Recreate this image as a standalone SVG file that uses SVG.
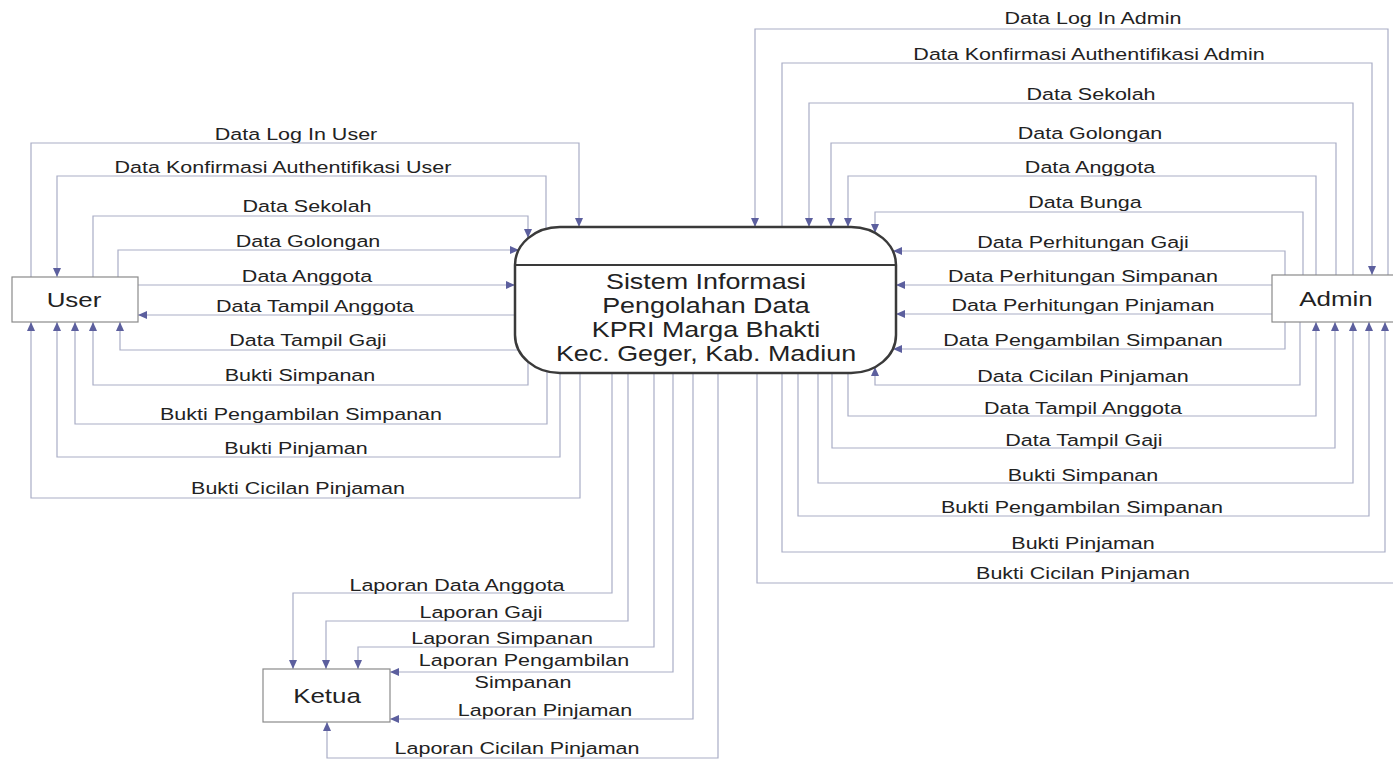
<svg xmlns="http://www.w3.org/2000/svg" width="1393" height="760" viewBox="0 0 1393 760">
<defs>
<style>
.c{fill:none;stroke:#a9adc6;stroke-width:1.2;marker-end:url(#ah)}
.n{fill:none;stroke:#a9adc6;stroke-width:1.2}
.lb{font-family:"Liberation Sans",Arial,sans-serif;font-size:17px;fill:#222;text-anchor:middle}
.pt{font-family:"Liberation Sans",Arial,sans-serif;font-size:21.5px;fill:#222;text-anchor:middle}
.et{font-family:"Liberation Sans",Arial,sans-serif;font-size:20.5px;fill:#222;text-anchor:middle}
.ent{fill:#fff;stroke:#8a8a8a;stroke-width:1.2}
</style>
<marker id="ah" markerUnits="userSpaceOnUse" markerWidth="9" markerHeight="8" refX="9" refY="4" orient="auto">
<path d="M0,0 L9,4 L0,8 Z" fill="#5c5f9e"/>
</marker>
</defs>
<rect width="1393" height="760" fill="#fff"/>
<g id="connectors">
<path class="c" d="M31,277 V143 H579 V227"/>
<path class="c" d="M546,229 V176 H57 V277"/>
<path class="c" d="M93,277 V216 H528 V238"/>
<path class="c" d="M118,277 V250 H519"/>
<path class="c" d="M138,285 H515"/>
<path class="c" d="M515,315 H138"/>
<path class="c" d="M519,350 H120 V322"/>
<path class="c" d="M528,362 V385 H93 V322"/>
<path class="c" d="M547,371 V424 H75 V322"/>
<path class="c" d="M560,373 V457 H57 V322"/>
<path class="c" d="M580,373 V498 H31 V322"/>
<path class="c" d="M1388,275 V29 H755 V227"/>
<path class="c" d="M782,227 V63 H1372 V275"/>
<path class="c" d="M1353,275 V103 H809 V227"/>
<path class="c" d="M1336,275 V143 H831 V227"/>
<path class="c" d="M1316,275 V176 H848 V227"/>
<path class="c" d="M1303,275 V212 H875 V233"/>
<path class="c" d="M1285,275 V251 H893"/>
<path class="c" d="M1272,285 H896"/>
<path class="c" d="M1272,314 H896"/>
<path class="c" d="M1285,322 V349 H893"/>
<path class="c" d="M1300,322 V385 H875 V367"/>
<path class="c" d="M848,373 V416 H1316 V322"/>
<path class="c" d="M832,373 V448 H1335 V322"/>
<path class="c" d="M818,373 V483 H1353 V322"/>
<path class="c" d="M798,373 V516 H1369 V322"/>
<path class="c" d="M782,373 V552 H1385 V322"/>
<path class="c" d="M757,373 V583 H1397 V322"/>
<path class="c" d="M612,373 V593 H293 V669"/>
<path class="c" d="M628,373 V621 H326 V669"/>
<path class="c" d="M654,373 V647 H358 V669"/>
<path class="c" d="M673,373 V672 H390"/>
<path class="c" d="M693,373 V719 H390"/>
<path class="c" d="M718,373 V758 H327 V722"/>
</g>
<g id="labels">
<text class="lb" transform="matrix(1.265 0 0 1 296 140)">Data Log In User</text>
<text class="lb" transform="matrix(1.265 0 0 1 283 173)">Data Konfirmasi Authentifikasi User</text>
<text class="lb" transform="matrix(1.265 0 0 1 307 212)">Data Sekolah</text>
<text class="lb" transform="matrix(1.265 0 0 1 308 247)">Data Golongan</text>
<text class="lb" transform="matrix(1.265 0 0 1 307 282)">Data Anggota</text>
<text class="lb" transform="matrix(1.265 0 0 1 315 312)">Data Tampil Anggota</text>
<text class="lb" transform="matrix(1.265 0 0 1 308 346)">Data Tampil Gaji</text>
<text class="lb" transform="matrix(1.265 0 0 1 300 381)">Bukti Simpanan</text>
<text class="lb" transform="matrix(1.265 0 0 1 301 420)">Bukti Pengambilan Simpanan</text>
<text class="lb" transform="matrix(1.265 0 0 1 296 454)">Bukti Pinjaman</text>
<text class="lb" transform="matrix(1.265 0 0 1 298 494)">Bukti Cicilan Pinjaman</text>
<text class="lb" transform="matrix(1.265 0 0 1 1093 24)">Data Log In Admin</text>
<text class="lb" transform="matrix(1.265 0 0 1 1089 60)">Data Konfirmasi Authentifikasi Admin</text>
<text class="lb" transform="matrix(1.265 0 0 1 1091 100)">Data Sekolah</text>
<text class="lb" transform="matrix(1.265 0 0 1 1090 139)">Data Golongan</text>
<text class="lb" transform="matrix(1.265 0 0 1 1090 173)">Data Anggota</text>
<text class="lb" transform="matrix(1.265 0 0 1 1085 208)">Data Bunga</text>
<text class="lb" transform="matrix(1.265 0 0 1 1083 248)">Data Perhitungan Gaji</text>
<text class="lb" transform="matrix(1.265 0 0 1 1083 282)">Data Perhitungan Simpanan</text>
<text class="lb" transform="matrix(1.265 0 0 1 1083 311)">Data Perhitungan Pinjaman</text>
<text class="lb" transform="matrix(1.265 0 0 1 1083 346)">Data Pengambilan Simpanan</text>
<text class="lb" transform="matrix(1.265 0 0 1 1083 382)">Data Cicilan Pinjaman</text>
<text class="lb" transform="matrix(1.265 0 0 1 1083 414)">Data Tampil Anggota</text>
<text class="lb" transform="matrix(1.265 0 0 1 1084 446)">Data Tampil Gaji</text>
<text class="lb" transform="matrix(1.265 0 0 1 1083 481)">Bukti Simpanan</text>
<text class="lb" transform="matrix(1.265 0 0 1 1082 513)">Bukti Pengambilan Simpanan</text>
<text class="lb" transform="matrix(1.265 0 0 1 1083 549)">Bukti Pinjaman</text>
<text class="lb" transform="matrix(1.265 0 0 1 1083 579)">Bukti Cicilan Pinjaman</text>
<text class="lb" transform="matrix(1.265 0 0 1 457 591)">Laporan Data Anggota</text>
<text class="lb" transform="matrix(1.265 0 0 1 481 618)">Laporan Gaji</text>
<text class="lb" transform="matrix(1.265 0 0 1 502 644)">Laporan Simpanan</text>
<text class="lb" transform="matrix(1.265 0 0 1 524 666)">Laporan Pengambilan</text>
<text class="lb" transform="matrix(1.265 0 0 1 523 688)">Simpanan</text>
<text class="lb" transform="matrix(1.265 0 0 1 545 716)">Laporan Pinjaman</text>
<text class="lb" transform="matrix(1.265 0 0 1 517 754)">Laporan Cicilan Pinjaman</text>
</g>
<g id="process">
<rect x="515" y="227" width="381" height="146" rx="45" ry="38" fill="#fff" stroke="#3a3a3a" stroke-width="2.5"/>
<line x1="515" y1="265" x2="896" y2="265" stroke="#3a3a3a" stroke-width="2"/>
<text class="pt" transform="matrix(1.25 0 0 1 706 289)">Sistem Informasi</text>
<text class="pt" transform="matrix(1.25 0 0 1 706 313)">Pengolahan Data</text>
<text class="pt" transform="matrix(1.25 0 0 1 706 337)">KPRI Marga Bhakti</text>
<text class="pt" transform="matrix(1.25 0 0 1 706 361)">Kec. Geger, Kab. Madiun</text>
</g>
<g id="user">
<rect class="ent" x="12" y="277" width="126" height="45"/>
<text class="et" transform="matrix(1.265 0 0 1 74 307)">User</text>
</g>
<g id="admin">
<rect class="ent" x="1272" y="275" width="130" height="47"/>
<text class="et" transform="matrix(1.265 0 0 1 1336 306)">Admin</text>
</g>
<g id="ketua">
<rect class="ent" x="263" y="669" width="127" height="53"/>
<text class="et" transform="matrix(1.265 0 0 1 327 703)">Ketua</text>
</g>
</svg>
